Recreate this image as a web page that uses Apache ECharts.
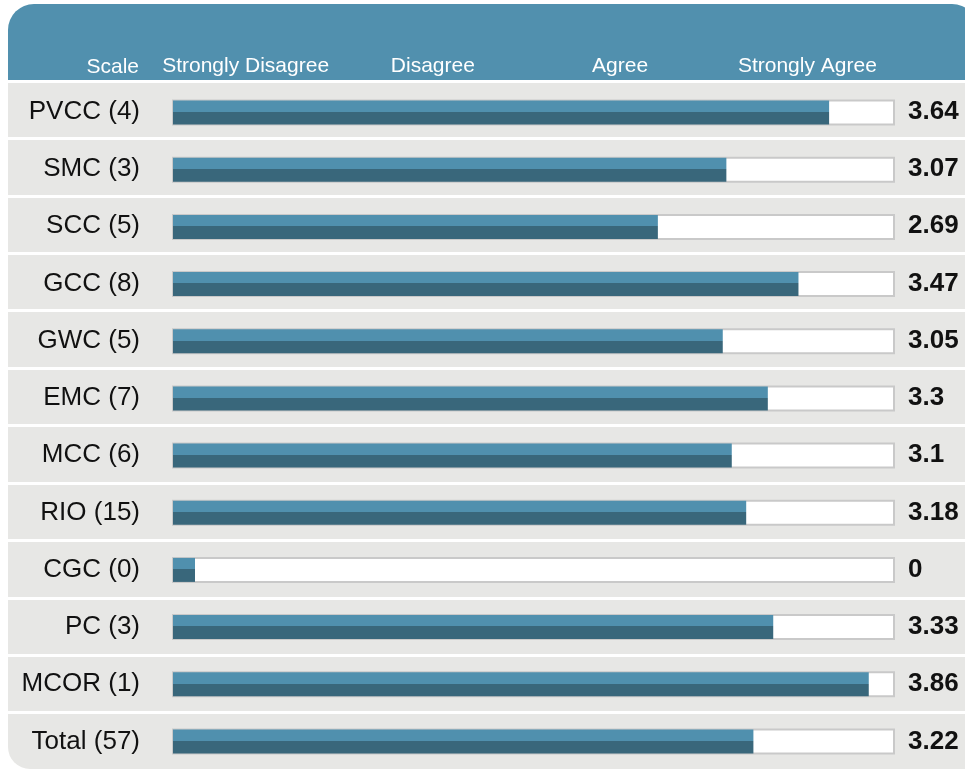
<!DOCTYPE html>
<html><head><meta charset="utf-8">
<script src="https://cdn.jsdelivr.net/npm/echarts@6/dist/echarts.min.js"></script>
<style>html,body{margin:0;padding:0;background:#fff}#c{width:965px;height:770px}</style>
</head><body><div id="c"></div>
<script>
const categories = ['PVCC (4)','SMC (3)','SCC (5)','GCC (8)','GWC (5)','EMC (7)','MCC (6)','RIO (15)','CGC (0)','PC (3)','MCOR (1)','Total (57)'];
const values = [3.64, 3.07, 2.69, 3.47, 3.05, 3.3, 3.1, 3.18, 0, 3.33, 3.86, 3.22];
const scaleLabels = ['Strongly Disagree','Disagree','Agree','Strongly Agree'];
const scaleTitle = 'Scale';
const scaleMin = 0;
const scaleMax = 4;

const FONT = '"Liberation Sans", Arial, sans-serif';
const chart = echarts.init(document.getElementById('c'), null, {renderer:'canvas'});
const barGrad = new echarts.graphic.LinearGradient(0, 0, 0, 1, [
  {offset:0, color:'#5090ae'}, {offset:0.47, color:'#5090ae'},
  {offset:0.47, color:'#39677b'}, {offset:1, color:'#39677b'}
]);
chart.setOption({
  animation:false,
  backgroundColor:'#ffffff',
  graphic:[
    {type:'rect', z:-10, shape:{x:8, y:4, width:970, height:76, r:[26,26,0,0]}, style:{fill:'#5190ae'}, silent:true},
    {type:'rect', z:-10, shape:{x:8, y:82, width:970, height:687, r:[0,0,0,22]}, style:{fill:'#e7e7e5'}, silent:true},
    {type:'text', z:10, x:139, y:67, style:{text:scaleTitle, align:'right', verticalAlign:'middle', fill:'#ffffff', fontSize:21, fontFamily:FONT}, silent:true}
  ],
  grid:[
    {left:8, right:0, top:81, height:692},
    {left:173, width:721, top:84, height:692},
    {left:152, width:749, top:31, height:24},
    {left:8, right:0, top:83, height:692}
  ],
  xAxis:[
    {gridIndex:0, type:'value', show:false},
    {gridIndex:1, type:'value', min:scaleMin, max:scaleMax, show:false},
    {gridIndex:2, type:'category', data:scaleLabels, axisLine:{show:false}, axisTick:{show:false}, splitLine:{show:false},
     axisLabel:{color:'#ffffff', fontSize:21, margin:1, fontFamily:FONT, interval:0}},
    {gridIndex:3, type:'value', show:false}
  ],
  yAxis:[
    {gridIndex:0, type:'category', inverse:true, data:categories, axisLine:{show:false}, axisTick:{show:false},
     splitLine:{show:true, lineStyle:{color:'#ffffff', width:3}}, axisLabel:{show:false}},
    {gridIndex:3, type:'category', inverse:true, data:categories, axisLine:{show:false}, axisTick:{show:false},
     splitLine:{show:false},
     axisLabel:{inside:true, margin:132, align:'right', fontSize:26, color:'#111111', fontFamily:FONT, interval:0}},
    {gridIndex:3, type:'category', inverse:true, position:'right', data:values.map(String), axisLine:{show:false}, axisTick:{show:false},
     splitLine:{show:false},
     axisLabel:{inside:true, margin:57, align:'left', fontSize:26, fontWeight:'bold', color:'#111111', fontFamily:FONT, interval:0}},
    {gridIndex:1, type:'category', inverse:true, data:categories, show:false},
    {gridIndex:2, type:'value', show:false}
  ],
  series:[
    {type:'bar', xAxisIndex:1, yAxisIndex:3, data:values, barWidth:24, barMinHeight:22,
     showBackground:true, backgroundStyle:{color:'#ffffff', borderColor:'#c9c9c9', borderWidth:2},
     itemStyle:{color:barGrad}, silent:true}
  ]
});
</script></body></html>
